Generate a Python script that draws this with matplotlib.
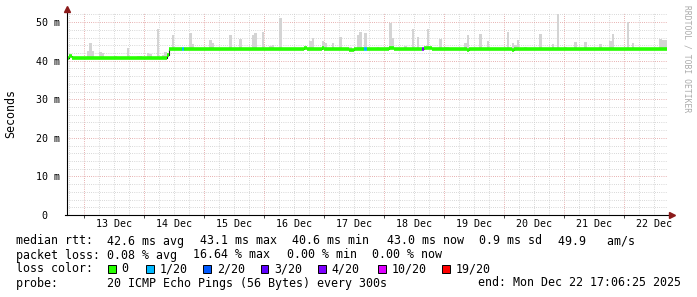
import matplotlib
matplotlib.use("Agg")
import matplotlib.pyplot as plt
import matplotlib.dates as mdates
from matplotlib.patches import Rectangle
from matplotlib.ticker import MultipleLocator
from datetime import datetime, timedelta

# ---------------- data ----------------
start_time = datetime(2025, 12, 12, 17, 6, 25)
end_time = datetime(2025, 12, 22, 17, 6, 25)
n_bins = 240  # one bin per hour

# median RTT in ms, as runs: first hour bin of run, value
median_run_start = [0, 1, 2, 40, 41, 95, 96, 102, 103, 113, 115, 129, 131, 143, 146, 160, 161, 178, 179]
median_run_value = [40.8, 41.3, 40.7, 41.4, 43.0, 43.2, 43.0, 43.2, 43.0, 42.7, 43.0, 43.2, 43.0, 43.2, 43.0, 42.7, 43.0, 42.8, 43.0]

# smoke (max RTT of the 20 pings) for the hour bins where it rises above the median line
smoke_hours = [8, 9, 10, 13, 14, 19, 24, 28, 29, 32, 33, 36, 38, 39,
               42, 49, 50, 57, 58, 65, 69, 74, 75, 78, 81, 82, 85, 90,
               97, 98, 102, 103, 106, 109, 113, 116, 117, 118, 119, 124, 128, 129,
               130, 135, 138, 140, 144, 149, 151, 152, 159, 160, 165, 168,
               176, 178, 179, 180, 183, 189, 194, 196, 199, 203, 207, 213,
               217, 218, 224, 226, 237, 238, 239]
smoke_tops = [42.6, 44.6, 42.6, 42.3, 42.0, 41.3, 43.4, 41.3, 41.3, 42.0, 41.8, 48.1, 41.6, 42.2,
              46.7, 47.2, 44.4, 45.5, 44.6, 46.8, 45.7, 46.8, 47.2, 47.4, 43.9, 44.1, 51.0, 43.3,
              45.1, 45.9, 45.2, 44.6, 44.6, 46.1, 43.6, 46.6, 47.5, 43.6, 47.2, 43.5, 43.6, 49.9,
              46.0, 43.8, 48.3, 46.1, 48.1, 45.6, 43.6, 43.6, 44.6, 46.6, 47.0, 45.2,
              47.5, 44.6, 44.0, 45.5, 43.6, 47.0, 44.3, 52.0, 43.6, 44.9, 44.9, 44.3,
              45.1, 47.0, 50.1, 44.6, 45.7, 45.4, 45.3]

# hour bins with packet loss (lost pings out of 20)
loss_hours = [46, 119, 142]
loss_counts = [1, 1, 4]

loss_levels = [0, 1, 2, 3, 4, 10, 19]
loss_labels = ["0", "1/20", "2/20", "3/20", "4/20", "10/20", "19/20"]
loss_colors = ["#26ff00", "#00b8ff", "#0059ff", "#5e00ff", "#7e00ff", "#dd00ff", "#ff0000"]

label_days = [13, 14, 15, 16, 17, 18, 19, 20, 21, 22]
day_labels = ["13 Dec", "14 Dec", "15 Dec", "16 Dec", "17 Dec", "18 Dec",
              "19 Dec", "20 Dec", "21 Dec", "22 Dec"]
ytick_values = [0, 10, 20, 30, 40, 50]
ytick_labels = ["0  ", "10 m", "20 m", "30 m", "40 m", "50 m"]
y_top = 52.3

rtt_title = "median rtt:"
rtt_parts = ["42.6 ms avg", "43.1 ms max", "40.6 ms min", "43.0 ms now", "0.9 ms sd", "49.9   am/s"]
loss_title = "packet loss:"
loss_parts = ["0.08 % avg", "16.64 % max", "0.00 % min", "0.00 % now"]
color_title = "loss color:"
line_probe = "probe:       20 ICMP Echo Pings (56 Bytes) every 300s"
line_end = "end: Mon Dec 22 17:06:25 2025"
watermark = "RRDTOOL / TOBI OETIKER"

# ---------------- derived ----------------
median = []
for h in range(n_bins):
    v = median_run_value[0]
    for s, val in zip(median_run_start, median_run_value):
        if h >= s:
            v = val
    median.append(v)

loss_per_bin = [0] * n_bins
for h, c in zip(loss_hours, loss_counts):
    loss_per_bin[h] = c


def loss_color(c):
    col = loss_colors[0]
    for lv, cl in zip(loss_levels, loss_colors):
        if c >= lv:
            col = cl
    return col


def hour_num(h):
    return mdates.date2num(start_time + timedelta(hours=h))


# ---------------- figure ----------------
W, H = 697, 297
DPI = 100
mono = "DejaVu Sans Mono"
fig = plt.figure(figsize=(W / DPI, H / DPI), dpi=DPI, facecolor="white")

ax_l, ax_r = 66.5, 666.5
ax_b, ax_t = 215.0, 13.3
ax = fig.add_axes([ax_l / W, 1 - ax_b / H, (ax_r - ax_l) / W, (ax_b - ax_t) / H])
ax.set_facecolor("white")
ax.set_xlim(mdates.date2num(start_time), mdates.date2num(end_time))
ax.set_ylim(0, y_top)

# grid
ax.xaxis.set_major_locator(mdates.DayLocator())
ax.xaxis.set_minor_locator(mdates.HourLocator(byhour=[6, 12, 18]))
ax.yaxis.set_major_locator(MultipleLocator(10))
ax.yaxis.set_minor_locator(MultipleLocator(2))
ax.grid(which="minor", color="#cccccc", linestyle=(0, (0.72, 1.44)), linewidth=0.72)
ax.grid(which="major", color="#e09a9a", linestyle=(0, (0.72, 1.44)), linewidth=0.72)
ax.set_axisbelow(True)
ax.xaxis.set_ticklabels([])
ax.tick_params(axis="x", which="major", length=2.5, width=0.7, color="#404040", direction="out")
ax.tick_params(axis="x", which="minor", length=0)
ax.set_yticks(ytick_values)
ax.set_yticklabels(ytick_labels, fontsize=7.2, family=mono)
ax.tick_params(axis="y", which="major", length=0, pad=4.7)
ax.tick_params(axis="y", which="minor", length=0)
for s in ax.spines.values():
    s.set_visible(False)

# day labels at noon
sec = ax.secondary_xaxis("bottom")
sec.set_xticks([mdates.date2num(datetime(2025, 12, d, 12)) for d in label_days])
sec.set_xticklabels(day_labels, fontsize=7.2, family=mono)
sec.tick_params(length=0, pad=3.2)
sec.spines["bottom"].set_visible(False)

# smoke
ax.bar([hour_num(h) for h in smoke_hours],
       [t - median[h] for h, t in zip(smoke_hours, smoke_tops)],
       bottom=[median[h] for h in smoke_hours],
       width=1 / 24, align="edge", color="#d4d4d4", linewidth=0, zorder=2)

# median: thin dark step line then loss-coloured segments
edges = [hour_num(h) for h in range(n_bins + 1)]
ax.step(edges, median + [median[-1]], where="post", color="#202020", linewidth=0.8, zorder=3)
ax.hlines(median, edges[:-1], edges[1:], colors=[loss_color(c) for c in loss_per_bin],
          linewidth=2.6, zorder=4, capstyle="butt")

# axis lines with arrows
axis_col = "#000000"
arrow_col = "#8b1a1a"
ext_top = (ax_t - 9.5) / (ax_b - ax_t)
ax.plot([0, 0], [0, 1 + ext_top], transform=ax.transAxes, color=axis_col, lw=0.8, clip_on=False, zorder=5)
ax.plot([-1.5 / 600, 1 + 4 / 600], [0, 0], transform=ax.transAxes, color=axis_col, lw=0.8, clip_on=False, zorder=5)
ax.plot([0], [1 + (ax_t - 8.5) / (ax_b - ax_t)], marker="^", markersize=4.2, color=arrow_col,
        transform=ax.transAxes, clip_on=False, zorder=6)
ax.plot([1 + 5.5 / 600], [0], marker=">", markersize=4.2, color=arrow_col,
        transform=ax.transAxes, clip_on=False, zorder=6)

# y label and watermark
fig.text(11 / W, 1 - 114 / H, "Seconds", rotation=90, ha="center", va="center",
         fontsize=8.4, family=mono, color="black")
fig.text(687 / W, 1 - 5 / H, watermark, rotation=-90, ha="center", va="top",
         fontsize=5.8, family=mono, color="#aaaaaa")

# legend text
fs = 8.4
x0 = 16 / W
fig.text(x0, 1 - 241 / H, rtt_title, ha="left", va="center", fontsize=fs, family=mono)
for px, txt in zip([107.3, 200.0, 292.3, 386.7, 479.3, 558.3], rtt_parts):
    fig.text(px / W, 1 - 241 / H, txt, ha="left", va="center", fontsize=fs, family=mono)
fig.text(x0, 1 - 255 / H, loss_title, ha="left", va="center", fontsize=fs, family=mono)
for px, txt in zip([107.3, 192.7, 287.3, 372.3], loss_parts):
    fig.text(px / W, 1 - 255 / H, txt, ha="left", va="center", fontsize=fs, family=mono)
fig.text(x0, 1 - 269 / H, color_title, ha="left", va="center", fontsize=fs, family=mono)
fig.text(x0, 1 - 283 / H, line_probe, ha="left", va="center", fontsize=fs, family=mono)
fig.text(478.3 / W, 1 - 283 / H, line_end, ha="left", va="center", fontsize=fs, family=mono)

box_x = [108.3, 146.0, 203.3, 260.7, 318.3, 378.3, 442.3]
box_size = 7.7
for bx, lab, col in zip(box_x, loss_labels, loss_colors):
    fig.add_artist(Rectangle((bx / W, 1 - 272.7 / H), box_size / W, box_size / H,
                             transform=fig.transFigure, facecolor=col, edgecolor="black", linewidth=0.7))
    fig.text((bx + 13.4) / W, 1 - 269 / H, lab, ha="left", va="center", fontsize=fs, family=mono)

fig.savefig("out.png", dpi=DPI, facecolor="white")
